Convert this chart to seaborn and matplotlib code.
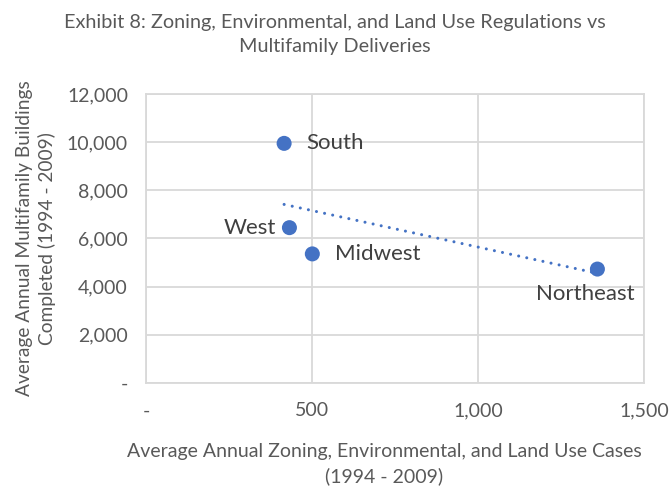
import matplotlib
matplotlib.use("Agg")
import matplotlib.pyplot as plt
from matplotlib.ticker import FuncFormatter
import seaborn as sns
import pandas as pd

regions = ["South", "West", "Midwest", "Northeast"]
cases = [416, 432, 501, 1360]
buildings = [9950, 6450, 5360, 4730]

title = "Exhibit 8: Zoning, Environmental, and Land Use Regulations vs\nMultifamily Deliveries"
xlabel = "Average Annual Zoning, Environmental, and Land Use Cases\n(1994 - 2009)"
ylabel = "Average Annual Multifamily Buildings\nCompleted (1994 - 2009)"

df = pd.DataFrame({"region": regions, "cases": cases, "buildings": buildings})

sns.set_theme(style="white")
plt.rcParams["font.family"] = ["Lato", "DejaVu Sans"]
TXT = "#595959"
GRID = "#d9d9d9"
BLUE = "#4472C4"

fig = plt.figure(figsize=(6.7, 4.87), dpi=100)
ax = fig.add_axes([0.218, 0.2136, 0.743, 0.5934])

sns.regplot(data=df, x="cases", y="buildings", ax=ax, scatter=False, ci=None,
            color=BLUE, line_kws=dict(linestyle=(0, (0.01, 2.7)), linewidth=2.2,
                                      dash_capstyle="round"))
sns.scatterplot(data=df, x="cases", y="buildings", ax=ax, color=BLUE, s=117,
                edgecolor="none", zorder=3)

ax.set_xlim(0, 1500)
ax.set_ylim(0, 12000)
ax.set_xticks([0, 500, 1000, 1500])
ax.set_yticks(range(0, 12001, 2000))
fmt = FuncFormatter(lambda v, p: "-" if v == 0 else f"{v:,.0f}")
ax.xaxis.set_major_formatter(fmt)
ax.yaxis.set_major_formatter(fmt)
ax.grid(True, color=GRID, linewidth=1.3)
ax.set_axisbelow(True)
for s in ax.spines.values():
    s.set_color(GRID)
    s.set_linewidth(1.3)
ax.tick_params(axis="both", length=0, labelsize=14, labelcolor=TXT)
ax.tick_params(axis="y", pad=13)
ax.tick_params(axis="x", pad=14)

ax.set_xlabel(xlabel, fontsize=14, color=TXT, linespacing=1.45)
ax.xaxis.set_label_coords(0.478, -0.208, transform=ax.transAxes)
ax.xaxis.label.set_va("top")
ax.set_ylabel(ylabel, fontsize=13.8, color=TXT, labelpad=7.5, linespacing=1.36)
fig.text(0.5, 0.972, title, ha="center", va="top", fontsize=14.3, color=TXT, linespacing=1.55)

offsets = {"South": (16, 0, "left", "center"),
           "West": (-10, 0, "right", "center"),
           "Midwest": (16, 0, "left", "center"),
           "Northeast": (-9, -11, "center", "top")}
for r, x, y in zip(regions, cases, buildings):
    dx, dy, ha, va = offsets[r]
    ax.annotate(r, (x, y), xytext=(dx, dy), textcoords="offset points",
                ha=ha, va=va, fontsize=16, color="#404040")

fig.savefig("out.png", dpi=100)
